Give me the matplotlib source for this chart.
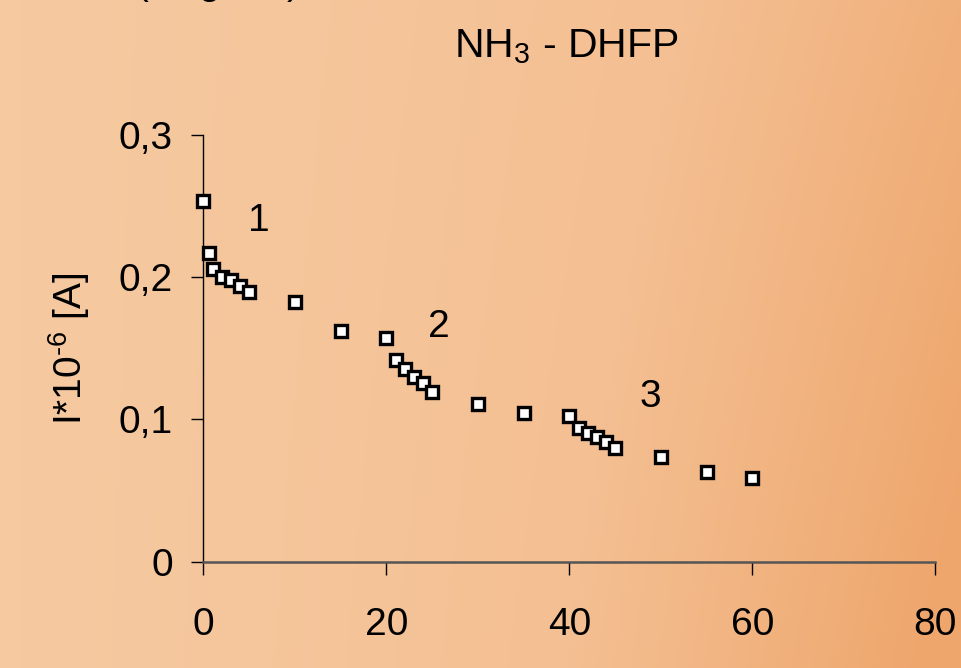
import numpy as np
import matplotlib
matplotlib.use("Agg")
import matplotlib.pyplot as plt
from matplotlib.colors import LinearSegmentedColormap

plt.rcParams['font.family'] = ['Liberation Sans', 'DejaVu Sans']
plt.rcParams['mathtext.fontset'] = 'custom'
plt.rcParams['mathtext.rm'] = 'Liberation Sans'
plt.rcParams['mathtext.it'] = 'Liberation Sans'
plt.rcParams['mathtext.default'] = 'regular'

# --- data ---
time_x = [0, 0.6, 1, 2, 3, 4, 5, 10, 15, 20, 21, 22, 23, 24, 25, 30, 35,
          40, 41, 42, 43, 44, 45, 50, 55, 60]
current = [0.254, 0.217, 0.206, 0.200, 0.198, 0.194, 0.190, 0.183, 0.162,
           0.157, 0.142, 0.1355, 0.130, 0.1255, 0.119, 0.111, 0.1045,
           0.1025, 0.0942, 0.0902, 0.0878, 0.0839, 0.0797, 0.0733, 0.063, 0.0588]
step_labels = ['1', '2', '3']
step_x = [6.1, 25.7, 48.9]
step_y = [0.240, 0.165, 0.1156]
x_ticks = [0, 20, 40, 60, 80]
y_ticks = [0, 0.1, 0.2, 0.3]
y_ticklabels = ['0', '0,1', '0,2', '0,3']

fig = plt.figure(figsize=(9.61, 6.68), dpi=100)

# --- slide background gradient ---
bg = fig.add_axes([0, 0, 1, 1], zorder=-10)
bg.axis('off')
gx = np.linspace(0, 1, 300)
gy = np.linspace(0, 1, 200)
GX, GY = np.meshgrid(gx, gy)
grad = np.clip(GX ** 1.4 * (0.8 + 0.25 * GY), 0, 1)
cmap = LinearSegmentedColormap.from_list('slide', ['#f6c9a0', '#f4bf92', '#eea66c'])
bg.imshow(grad, cmap=cmap, aspect='auto', extent=[0, 1, 0, 1], origin='upper')

# cut-off text at the top of the slide (only its descenders show)
for s, px in [('(', 136), ('g', 198), (')', 287)]:
    fig.text(px / 961, 1 + 6 / 668, s, fontsize=28, va='baseline', ha='left')

ax = fig.add_axes([203.4 / 961, 1 - 561.5 / 668, 732 / 961, 426.2 / 668])
ax.patch.set_alpha(0)
ax.plot(time_x, current, 's', ms=8.2, mfc='white', mec='black', mew=2.4,
        clip_on=False, zorder=5)

for lab, lx, ly in zip(step_labels, step_x, step_y):
    ax.text(lx, ly, lab, fontsize=28, ha='center', va='center')

ax.set_xlim(0, 80)
ax.set_ylim(0, 0.3)
ax.set_xticks(x_ticks)
ax.set_yticks(y_ticks)
ax.set_yticklabels(y_ticklabels)
ax.spines['top'].set_visible(False)
ax.spines['right'].set_visible(False)
ax.spines['left'].set_linewidth(1.0)
ax.spines['bottom'].set_linewidth(1.8)
ax.spines['bottom'].set_color('#555555')
ax.tick_params(axis='y', direction='out', length=9, width=1.0,
               labelsize=28, pad=13)
ax.tick_params(axis='x', direction='out', length=9, width=1.0,
               labelsize=28, pad=24)

ax.set_ylabel('I*10$^{\u2010 6}$ [A]', fontsize=28)
ax.yaxis.set_label_coords(-0.152, 0.5)

fig.text(566 / 961, 1 - 57 / 668, r'NH$_3$ - DHFP', fontsize=29.5,
         ha='center', va='baseline')

fig.savefig('out.png', dpi=100)
